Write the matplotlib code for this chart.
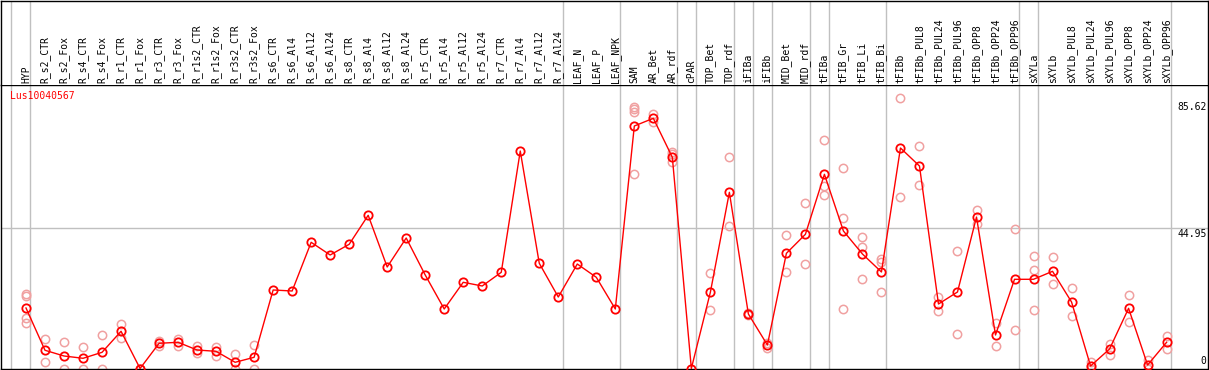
import matplotlib
matplotlib.use("Agg")
import matplotlib.pyplot as plt

# ----- data -----
TITLE = "Lus10040567"

samples = [
    "HYP",
    "R_s2_CTR", "R_s2_Fox", "R_s4_CTR", "R_s4_Fox", "R_r1_CTR", "R_r1_Fox",
    "R_r3_CTR", "R_r3_Fox", "R_r1s2_CTR", "R_r1s2_Fox", "R_r3s2_CTR", "R_r3s2_Fox",
    "R_s6_CTR", "R_s6_Al4", "R_s6_Al12", "R_s6_Al24",
    "R_s8_CTR", "R_s8_Al4", "R_s8_Al12", "R_s8_Al24",
    "R_r5_CTR", "R_r5_Al4", "R_r5_Al12", "R_r5_Al24",
    "R_r7_CTR", "R_r7_Al4", "R_r7_Al12", "R_r7_Al24",
    "LEAF_N", "LEAF_P", "LEAF_NPK",
    "SAM", "AR_Bet", "AR_rdf", "cPAR", "TOP_Bet", "TOP_rdf",
    "iFIBa", "iFIBb", "MID_Bet", "MID_rdf",
    "tFIBa", "tFIB_Gr", "tFIB_Li", "tFIB_Bi",
    "tFIBb", "tFIBb_PUL8", "tFIBb_PUL24", "tFIBb_PUL96",
    "tFIBb_OPP8", "tFIBb_OPP24", "tFIBb_OPP96",
    "sXYLa",
    "sXYLb", "sXYLb_PUL8", "sXYLb_PUL24", "sXYLb_PUL96",
    "sXYLb_OPP8", "sXYLb_OPP24", "sXYLb_OPP96",
]

# mean expression per sample
means = [
    19.40, 5.84, 4.01, 3.27, 5.19, 11.93, 0.0, 8.08, 8.40, 5.93, 5.51, 1.99, 3.59,
    25.17, 24.85, 40.46, 36.39, 39.82, 49.12, 32.54, 41.84,
    29.98, 19.08, 27.64, 26.45, 30.84, 69.73, 33.73, 22.92,
    33.50, 29.24, 19.08,
    77.75, 80.22, 67.71, 0.0, 24.43, 56.49,
    17.47, 7.53, 36.93, 43.03,
    62.26, 44.08, 36.71, 30.94,
    70.70, 64.92, 20.68, 24.53, 48.57, 10.74, 28.60,
    28.60,
    31.16, 21.32, 0.80, 6.25, 19.30, 1.12, 8.40,
]

# individual replicates per sample
replicates = [
    [23.79, 23.24, 16.29, 14.49],
    [9.36, 2.18], [8.40, 0.0], [6.80, 0.0], [10.64, 0.0], [14.27, 9.68], [0.0, 0.0],
    [8.72, 7.31], [9.46, 7.31], [7.31, 5.07], [6.99, 4.10], [4.65, 0.0], [7.44, 0.0],
    [], [], [], [], [], [], [], [],
    [], [], [], [], [], [], [], [],
    [], [], [],
    [83.75, 83.11, 82.33, 62.26], [81.60, 78.94], [69.51, 68.77, 66.11], [],
    [30.62, 18.76], [67.71, 45.69],
    [17.89, 17.06], [8.08, 6.48], [42.71, 30.94], [52.97, 33.50],
    [73.26, 58.61, 55.53], [64.19, 48.25, 19.08], [42.06, 38.95, 28.60],
    [35.01, 34.15, 24.53],
    [86.73, 54.99], [71.34, 58.74], [23.02, 18.44], [37.58, 11.06],
    [50.82, 46.23], [14.68, 7.21], [44.63, 12.34],
    [36.07, 31.48, 18.76],
    [35.75, 27.09], [25.71, 16.83], [2.18, 0.0], [7.95, 4.42],
    [23.57, 14.81], [2.73, 0.0], [10.52, 6.16],
]

# last sample index of each group (-1 = left edge)
group_ends = [-1, 0, 28, 31, 34, 35, 37, 38, 39, 41, 42, 45, 52, 53, 60]

ytick_vals = [85.62, 44.95, 0]
ytick_labels = ["85.62", "44.95", "0"]

# ----- figure -----
W, H = 1209, 370
fig = plt.figure(figsize=(W / 100, H / 100), dpi=100)
FONT = dict(family="DejaVu Sans Mono", size=7)

top_px, bot_px = 85, 368.5
px_per_unit = 3.119
x0_px, step_px = 26, 19.01

ax = fig.add_axes([1 / W, (H - bot_px) / H, 1207 / W, (bot_px - top_px) / H])
axh = fig.add_axes([1 / W, (H - top_px) / H, 1207 / W, (top_px - 0.5) / H], sharex=ax)

xmin = (1 - x0_px) / step_px
xmax = (1208 - x0_px) / step_px
ax.set_xlim(xmin, xmax)
ax.set_ylim(0, (bot_px - top_px) / px_per_unit)
axh.set_ylim(0, 1)

for a in (ax, axh):
    a.set_xticks([])
    a.set_yticks([])
    for s in a.spines.values():
        s.set_color("black")
        s.set_linewidth(1)
axh.spines["bottom"].set_visible(False)

grey = "#c0c0c0"
for g in group_ends:
    xs = g + 4.3 / step_px
    ax.axvline(xs, color=grey, lw=1, zorder=1)
    axh.axvline(xs, color=grey, lw=1, zorder=1)
ax.axhline(44.95, color=grey, lw=1, zorder=1)

xs = list(range(len(samples)))

# replicates
rx, ry = [], []
for i, reps in enumerate(replicates):
    for v in reps:
        rx.append(i)
        ry.append(v)
ax.plot(rx, ry, "o", ls="none", ms=6, mfc="none", mec="#f0a0a0", mew=1.1, zorder=2)

# mean line
ax.plot(xs, means, "-", color="red", lw=1, zorder=3)
ax.plot(xs, means, "o", ls="none", ms=6, mfc="none", mec="red", mew=1.3, zorder=4)

# sample labels in header
for i, name in enumerate(samples):
    axh.text(i, 0.02, name, rotation=90, ha="center", va="bottom", color="black", **FONT)

# title and right-side value labels
ax.text(9 / 1207, 1 - 6 / (bot_px - top_px), TITLE, transform=ax.transAxes,
        ha="left", va="top", color="red", **FONT)
tr = ax.get_yaxis_transform()
for v, lab in zip(ytick_vals, ytick_labels):
    if v == 0:
        ax.text(1205 / 1207, 0.8, lab, transform=tr, ha="right", va="bottom", **FONT)
    else:
        ax.text(1206 / 1207, v - 0.2, lab, transform=tr, ha="right", va="top", **FONT)

fig.savefig("out.png", dpi=100)
